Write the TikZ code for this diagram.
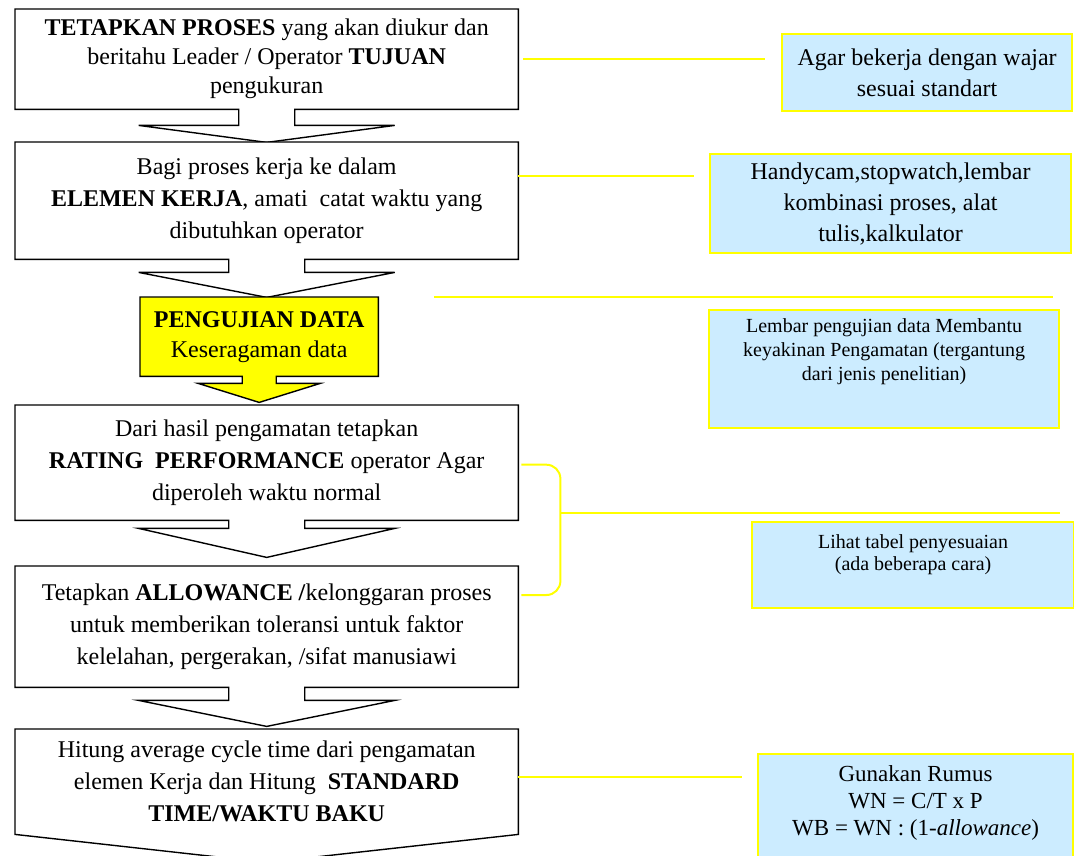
\documentclass[tikz,border=0pt]{standalone}
\usepackage{fontspec}
\setmainfont{Liberation Serif}
\usetikzlibrary{calc, backgrounds}

\definecolor{infoblue}{RGB}{204,236,255}
\definecolor{markyellow}{RGB}{255,255,0}

% box with a block arrow underneath: node, style, shaft half, head half, shaft length, head length
\newcommand{\flowbox}[6]{%
  \begin{pgfonlayer}{background}
  \draw[#2] (#1.north west) -- (#1.north east) -- (#1.south east)
    -- ($(#1.south)+(#3,0)$) -- ++(0,#5) -- ($(#1.south)+(#4,#5)$)
    -- ($(#1.south)+(0,#5+#6)$) -- ($(#1.south)+(-#4,#5)$)
    -- ($(#1.south)+(-#3,#5)$) -- ($(#1.south)+(-#3,0)$)
    -- (#1.south west) -- cycle;
  \end{pgfonlayer}}

\tikzset{
  stepbox/.style={rectangle, anchor=north west, minimum width=503, align=center, inner sep=2pt, font=\fontsize{24}{32}\selectfont},
  outline/.style={draw=black, line width=1.4pt, fill=white, line join=miter},
  infobox/.style={rectangle, anchor=north west, draw=markyellow, line width=2.2pt, fill=infoblue, align=center, inner sep=2pt},
  infotext/.style={anchor=north, inner sep=0pt, align=center},
  link/.style={draw=markyellow, line width=2pt},
}

\begin{document}
\begin{tikzpicture}[x=1pt, y=-1pt]
	\useasboundingbox (0,0) rectangle (1074,855);
	\clip (0,0) rectangle (1074,855);

	% langkah pengukuran
	\node[stepbox, minimum height=100, font=\fontsize{24}{29}\selectfont] (tetap) at (15,9) {\textbf{TETAPKAN PROSES} yang akan diukur dan\\ beritahu Leader / Operator \textbf{TUJUAN}\\ pengukuran};
	\node[stepbox, minimum height=117] (bagi) at (15,142) {Bagi proses kerja ke dalam\\ \textbf{ELEMEN KERJA}, amati\ \ catat waktu yang\\ dibutuhkan operator};
	\node[stepbox, minimum width=238, minimum height=79, font=\fontsize{24}{30}\selectfont] (uji) at (140,297) {\textbf{PENGUJIAN DATA}\\ Keseragaman data};
	\node[stepbox, minimum height=115] (rating) at (15,405) {Dari hasil pengamatan tetapkan\\ \textbf{RATING\ \ PERFORMANCE} operator Agar\\ diperoleh waktu normal};
	\node[stepbox, minimum height=121] (allow) at (15,566) {Tetapkan \textbf{ALLOWANCE /}kelonggaran proses\\ untuk memberikan toleransi untuk faktor\\ kelelahan, pergerakan, /sifat manusiawi};
	\node[stepbox, minimum height=105] (hitung) at (15,729) {Hitung average cycle time dari pengamatan\\ elemen Kerja dan Hitung\ \ \textbf{STANDARD}\\ \textbf{TIME/WAKTU BAKU}};

	\flowbox{tetap}{outline}{28}{128}{16}{17}
	\flowbox{bagi}{outline}{38}{128}{13}{25}
	\flowbox{uji}{outline, fill=markyellow}{17}{61}{7}{19}
	\flowbox{rating}{outline}{38}{128}{8}{29}
	\flowbox{allow}{outline}{38}{128}{13}{26}
	\begin{pgfonlayer}{background}
	\draw[outline] (hitung.north west) -- (hitung.north east) -- (hitung.south east) -- ($(hitung.south)+(0,28)$) -- (hitung.south west) -- cycle;
	\end{pgfonlayer}

	% keterangan
	\node[infobox, minimum width=290, minimum height=77, font=\fontsize{24}{31}\selectfont] (wajar) at (781,33) {Agar bekerja dengan wajar\\ sesuai standart};
	\node[infobox, minimum width=361, minimum height=99, font=\fontsize{24}{31}\selectfont] (alat) at (709,153) {Handycam,stopwatch,lembar\\ kombinasi proses, alat\\ tulis,kalkulator};
	\node[infobox, minimum width=350, minimum height=118] (lembar) at (708,309) {};
	\node[infotext, font=\fontsize{20}{24}\selectfont] (lembar-t) at ($(lembar.north)+(0,9)$) {Lembar pengujian data Membantu\\ keyakinan Pengamatan (tergantung\\ dari jenis penelitian)};
	\node[infobox, minimum width=322, minimum height=86] (tabel) at (751,521) {};
	\node[infotext, font=\fontsize{20}{22}\selectfont] (tabel-t) at ($(tabel.north)+(0,13)$) {Lihat tabel penyesuaian\\ (ada beberapa cara)};
	\node[infobox, minimum width=315, minimum height=115] (rumus) at (757,753) {};
	\node[infotext, font=\fontsize{23}{27}\selectfont] (rumus-t) at ($(rumus.north)+(0,12)$) {Gunakan Rumus\\ WN = C/T x P\\ WB = WN : (1-\textit{allowance})};

	% garis kuning
	\draw[link, shorten <=5, shorten >=16] (tetap.east) -- (tetap.east -| wajar.west);
	\coordinate (p2) at ($(bagi.north east)+(0,34)$);
	\draw[link, shorten >=15] (p2) -- (p2 -| alat.west);
	\coordinate (bebas-a) at (434,297);
	\coordinate (bebas-b) at ($(lembar.north east)+(-7,-12)$);
	\draw[link] (bebas-a) -- (bebas-a -| bebas-b);
	\draw[link, rounded corners=14] ($(rating.east)+(3,2)$) -- ++(39,0) -- ($(allow.north east)+(42,29)$) -- ($(allow.north east)+(3,29)$);
	\coordinate (kurung) at ($(rating.east)+(42,50)$);
	\draw[link] (kurung) -- ($(kurung -| tabel.east)+(-15,0)$);
	\coordinate (p6) at ($(hitung.north east)+(0,48)$);
	\draw[link, shorten >=15] (p6) -- (p6 -| rumus.west);

\end{tikzpicture}
\end{document}
